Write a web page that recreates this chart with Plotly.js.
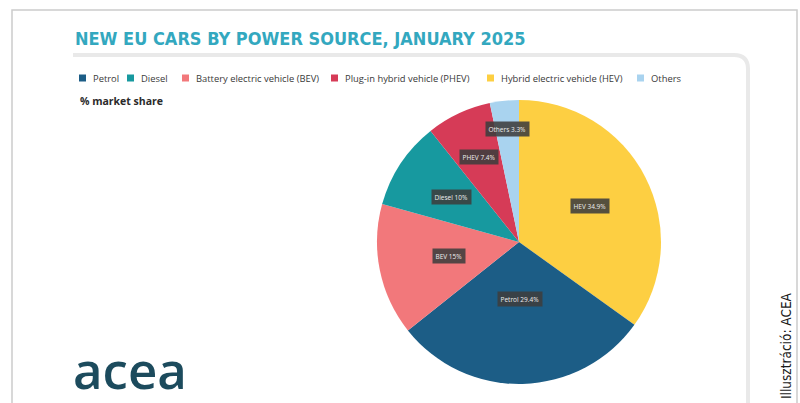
<!DOCTYPE html>
<html>
<head>
<meta charset="utf-8">
<script src="https://cdn.plot.ly/plotly-3.0.1.min.js"></script>
<style>
  html, body { margin: 0; padding: 0; background: #ffffff; }
  #chart { width: 800px; height: 403px; }
</style>
</head>
<body>
<div id="chart"></div>
<script>
// ---- data ----
const sliceKeys   = ['HEV', 'Petrol', 'BEV', 'Diesel', 'PHEV', 'Others'];
const shares      = [34.9, 29.4, 15, 10, 7.4, 3.3];
const shareLabels = ['HEV 34.9%', 'Petrol 29.4%', 'BEV 15%', 'Diesel 10%', 'PHEV 7.4%', 'Others 3.3%'];
const legendKeys  = ['Petrol', 'Diesel', 'BEV', 'PHEV', 'HEV', 'Others'];
const legendNames = ['Petrol', 'Diesel', 'Battery electric vehicle (BEV)', 'Plug-in hybrid vehicle (PHEV)', 'Hybrid electric vehicle (HEV)', 'Others'];
const titleText   = 'NEW EU CARS BY POWER SOURCE, JANUARY 2025';
const subtitleText = '% market share';
const creditText  = 'Illusztráció: ACEA';
const logoText    = 'acea';

// ---- styles ----
const W = 800, H = 403;
const colors = {
  Petrol: '#1c5d86',
  Diesel: '#17999f',
  BEV:    '#f2787b',
  PHEV:   '#d63b57',
  HEV:    '#fdcf42',
  Others: '#a9d3ef'
};
// pie placement in pixels
const pie = { x0: 377, x1: 661, y0: 100, y1: 384 };
const cx = (pie.x0 + pie.x1) / 2, cy = (pie.y0 + pie.y1) / 2, R = (pie.x1 - pie.x0) / 2;
// radial placement of the dark value boxes (fraction of radius)
const labelRadius = { HEV: 0.56, Petrol: 0.40, BEV: 0.50, Diesel: 0.57, PHEV: 0.66, Others: 0.80 };
// legend layout (pixel x of each swatch's left edge)
const legendSwatchX = [79, 127, 182, 331, 487, 637];
const legendY = 78, swatch = 7;

const px = x => x / W;
const py = y => 1 - y / H;

const trace = {
  type: 'pie',
  labels: sliceKeys,
  values: shares,
  sort: false,
  direction: 'clockwise',
  rotation: 0,
  textinfo: 'none',
  hoverinfo: 'skip',
  showlegend: false,
  marker: { colors: sliceKeys.map(k => colors[k]), line: { width: 0 } },
  domain: { x: [px(pie.x0), px(pie.x1)], y: [py(pie.y1), py(pie.y0)] }
};

const annotations = [];
const shapes = [];

// value boxes, placed at each slice's mid angle
const total = shares.reduce((a, b) => a + b, 0);
let cum = 0;
shares.forEach((v, i) => {
  const mid = (cum + v / 2) / total * 2 * Math.PI;
  cum += v;
  const f = labelRadius[sliceKeys[i]];
  const lx = cx + f * R * Math.sin(mid);
  const ly = cy - f * R * Math.cos(mid);
  annotations.push({
    xref: 'paper', yref: 'paper', x: px(lx), y: py(ly),
    xanchor: 'center', yanchor: 'middle', showarrow: false,
    text: shareLabels[i],
    font: { family: 'Open Sans, sans-serif', size: 6.5, color: '#eeeeee' },
    bgcolor: 'rgba(62,62,62,0.88)', borderpad: 2.5
  });
});

// legend: swatches + names
legendKeys.forEach((k, i) => {
  const sx = legendSwatchX[i];
  shapes.push({
    type: 'rect', xref: 'paper', yref: 'paper',
    x0: px(sx), x1: px(sx + swatch), y0: py(legendY + swatch / 2), y1: py(legendY - swatch / 2),
    fillcolor: colors[k], line: { width: 0 }
  });
  annotations.push({
    xref: 'paper', yref: 'paper', x: px(sx + swatch + 5), y: py(legendY),
    xanchor: 'left', yanchor: 'middle', showarrow: false,
    text: legendNames[i],
    font: { family: 'Open Sans, sans-serif', size: 9.4, color: '#3a3a3a' }
  });
});

// subtitle
annotations.push({
  xref: 'paper', yref: 'paper', x: px(78), y: py(101),
  xanchor: 'left', yanchor: 'middle', showarrow: false,
  text: '<b>' + subtitleText + '</b>',
  font: { family: 'Open Sans, sans-serif', size: 10.5, color: '#2a2a2a' }
});

// title
annotations.push({
  xref: 'paper', yref: 'paper', x: px(73), y: py(38),
  xanchor: 'left', yanchor: 'middle', showarrow: false,
  text: '<b>' + titleText + '</b>',
  font: { family: 'DejaVu Sans Condensed, sans-serif', size: 18, color: '#33a8bf' }
});

// logo word
annotations.push({
  xref: 'paper', yref: 'paper', x: px(72), y: py(369),
  xanchor: 'left', yanchor: 'middle', showarrow: false,
  text: logoText,
  font: { family: 'Open Sans, sans-serif', size: 51, weight: 600, color: '#1c4b5d' },
  borderpad: 0
});

// vertical credit
annotations.push({
  xref: 'paper', yref: 'paper', x: px(786), y: py(346),
  xanchor: 'center', yanchor: 'middle', showarrow: false,
  textangle: -90,
  text: creditText,
  font: { family: 'DejaVu Sans Condensed, sans-serif', size: 13.5, color: '#1a1a1a' }
});

// outer frame
shapes.push({ type: 'path', xref: 'paper', yref: 'paper',
  path: `M ${px(12)} ${py(410)} L ${px(12)} ${py(10)} L ${px(797)} ${py(10)} L ${px(797)} ${py(410)}`,
  line: { color: '#cccccc', width: 1.5 } });
// card edge (top + rounded corner + right side)
shapes.push({ type: 'path', xref: 'paper', yref: 'paper',
  path: `M ${px(73)} ${py(55)} L ${px(734)} ${py(55)} Q ${px(748)} ${py(55)} ${px(748)} ${py(69)} L ${px(748)} ${py(410)}`,
  line: { color: '#e9e9e9', width: 4 } });

const layout = {
  width: W, height: H,
  margin: { l: 0, r: 0, t: 0, b: 0 },
  paper_bgcolor: '#ffffff',
  plot_bgcolor: '#ffffff',
  showlegend: false,
  annotations: annotations,
  shapes: shapes
};

Plotly.newPlot('chart', [trace], layout, { displayModeBar: false, staticPlot: true });
</script>
</body>
</html>
